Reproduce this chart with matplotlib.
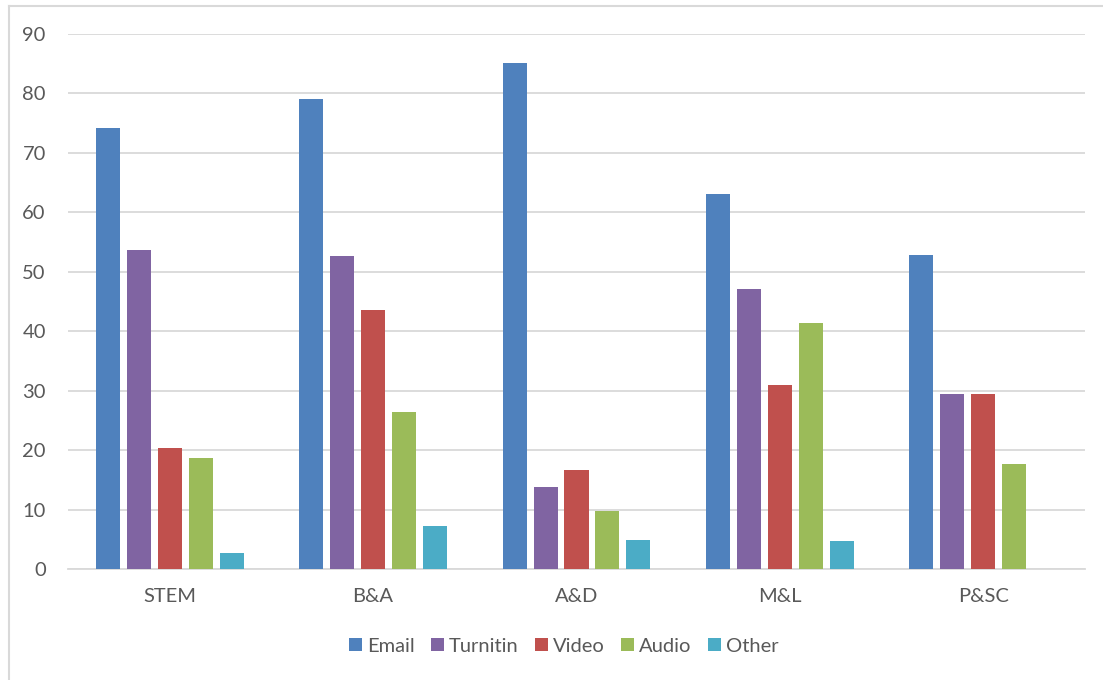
import numpy as np
import matplotlib.pyplot as plt
from matplotlib.lines import Line2D

plt.rcParams['font.family'] = ['Lato', 'DejaVu Sans']

# data
categories = ['STEM', 'B&A', 'A&D', 'M&L', 'P&SC']
series = ['Email', 'Turnitin', 'Video', 'Audio', 'Other']
email = [74.2, 79.1, 85.2, 63.1, 52.9]
turnitin = [53.6, 52.6, 13.8, 47.1, 29.4]
video = [20.4, 43.5, 16.7, 30.9, 29.4]
audio = [18.7, 26.4, 9.8, 41.4, 17.6]
other = [2.7, 7.2, 4.9, 4.7, 0.0]
values = [email, turnitin, video, audio, other]
colors = ['#4F81BD', '#8064A2', '#C0504D', '#9BBB59', '#4BACC6']

text_col = '#595959'
grid_col = '#D9D9D9'

fig = plt.figure(figsize=(11.03, 6.8), dpi=100)
ax = fig.add_axes([68 / 1103, 111 / 680, 1017 / 1103, 535 / 680])

x = np.arange(len(categories))
slot = 0.152
width = 0.118
for i, (name, vals, c) in enumerate(zip(series, values, colors)):
    ax.bar(x + (i - 2) * slot, vals, width, color=c, label=name, zorder=3)

ax.set_xlim(-0.5, len(categories) - 0.5)
ax.set_ylim(0, 90)
ax.set_yticks(np.arange(0, 91, 10))
ax.set_xticks(x)
ax.set_xticklabels(categories)
ax.yaxis.grid(True, color=grid_col, linewidth=1.3, zorder=0)
for s in ax.spines.values():
    s.set_visible(False)
ax.spines['bottom'].set_visible(True)
ax.spines['bottom'].set_color(grid_col)
ax.spines['bottom'].set_linewidth(1.3)
ax.tick_params(axis='both', length=0, colors=text_col, labelsize=14.5)
ax.tick_params(axis='y', pad=16)
ax.tick_params(axis='x', pad=14)

leg = fig.legend(loc='center', bbox_to_anchor=(0.511, 34 / 680), ncol=5,
                 frameon=False, fontsize=14.5, handlelength=0.65, handleheight=0.65,
                 handletextpad=0.25, columnspacing=0.8)
for t in leg.get_texts():
    t.set_color(text_col)

# outer chart border (left and top)
fig.add_artist(Line2D([9 / 1103, 9 / 1103], [0, 1 - 6 / 680], color=grid_col, linewidth=1.5))
fig.add_artist(Line2D([9 / 1103, 1102 / 1103], [1 - 6 / 680, 1 - 6 / 680], color=grid_col, linewidth=1.5))

fig.savefig('out.png', dpi=100)
